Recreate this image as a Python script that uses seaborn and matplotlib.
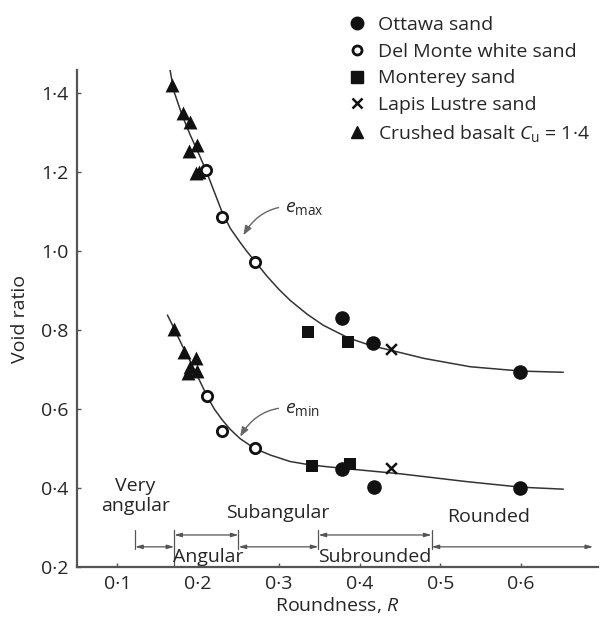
import matplotlib
matplotlib.use("Agg")
import matplotlib.pyplot as plt
from matplotlib.lines import Line2D
import seaborn as sns
import pandas as pd

# ---------------- data ----------------
ottawa_R = [0.378, 0.417, 0.599, 0.378, 0.418, 0.598]
ottawa_e = [0.830, 0.767, 0.694, 0.448, 0.403, 0.400]

delmonte_R = [0.210, 0.230, 0.270, 0.211, 0.230, 0.270]
delmonte_e = [1.205, 1.087, 0.972, 0.633, 0.545, 0.502]

monterey_R = [0.336, 0.386, 0.341, 0.388]
monterey_e = [0.795, 0.770, 0.456, 0.461]

lapis_R = [0.439, 0.439]
lapis_e = [0.752, 0.450]

basalt_R = [0.168, 0.181, 0.190, 0.199, 0.189, 0.197, 0.201,
            0.1705, 0.182, 0.198, 0.190, 0.199, 0.188]
basalt_e = [1.420, 1.350, 1.326, 1.268, 1.254, 1.197, 1.201,
            0.803, 0.744, 0.728, 0.706, 0.696, 0.690]

# fitted curves
emax_R = [0.163, 0.170, 0.180, 0.190, 0.200, 0.210, 0.220, 0.230, 0.240, 0.252,
          0.260, 0.270, 0.285, 0.300, 0.314, 0.335, 0.355, 0.386, 0.415, 0.440,
          0.480, 0.537, 0.600, 0.652]
emax_e = [1.484, 1.405, 1.345, 1.295, 1.250, 1.203, 1.150, 1.097, 1.057, 1.022,
          1.000, 0.975, 0.937, 0.903, 0.875, 0.840, 0.812, 0.780, 0.760, 0.748,
          0.728, 0.707, 0.696, 0.693]

emin_R = [0.162, 0.170, 0.180, 0.190, 0.200, 0.211, 0.220, 0.230, 0.240, 0.252,
          0.270, 0.290, 0.314, 0.340, 0.388, 0.450, 0.533, 0.600, 0.652]
emin_e = [0.838, 0.805, 0.762, 0.722, 0.680, 0.633, 0.600, 0.572, 0.548, 0.525,
          0.500, 0.483, 0.467, 0.458, 0.448, 0.436, 0.416, 0.402, 0.397]

# roundness classes
class_names = ["Very\nangular", "Angular", "Subangular", "Subrounded", "Rounded"]
class_bounds = [0.122, 0.1705, 0.25, 0.349, 0.489, 0.689]

x_ticks = [0.1, 0.2, 0.3, 0.4, 0.5, 0.6]
x_labels = ["0·1", "0·2", "0·3", "0·4", "0·5", "0·6"]
y_ticks = [0.2, 0.4, 0.6, 0.8, 1.0, 1.2, 1.4]
y_labels = ["0·2", "0·4", "0·6", "0·8", "1·0", "1·2", "1·4"]

# ---------------- style ----------------
sns.set_theme(style="ticks")
plt.rcParams["font.family"] = ["Open Sans", "DejaVu Sans"]
plt.rcParams["mathtext.fontset"] = "custom"
plt.rcParams["mathtext.rm"] = "Open Sans"
plt.rcParams["mathtext.it"] = "Open Sans:italic"

FS = 14
TXT = "#262626"
SP = "#555555"

fig = plt.figure(figsize=(6.01, 6.21), dpi=100)
ax = fig.add_axes([0.128, 0.087, 0.867, 0.800])

# curves
sns.lineplot(x=emax_R, y=emax_e, sort=False, color="#333333", lw=1.1, ax=ax)
sns.lineplot(x=emin_R, y=emin_e, sort=False, color="#333333", lw=1.1, ax=ax)

# points
sns.scatterplot(x=ottawa_R, y=ottawa_e, marker="o", s=110, color="#111111",
                edgecolor="#111111", linewidth=0, ax=ax, zorder=5)
sns.scatterplot(x=delmonte_R, y=delmonte_e, marker="o", s=55, facecolor="white",
                edgecolor="#111111", linewidth=2.0, ax=ax, zorder=5)
sns.scatterplot(x=monterey_R, y=monterey_e, marker="s", s=85, color="#111111",
                linewidth=0, ax=ax, zorder=5)
sns.scatterplot(x=lapis_R, y=lapis_e, marker="x", s=60, color="#111111",
                linewidth=1.8, ax=ax, zorder=5)
sns.scatterplot(x=basalt_R, y=basalt_e, marker="^", s=100, color="#111111",
                linewidth=0, ax=ax, zorder=5)

ax.set_xlim(0.05, 0.695)
ax.set_ylim(0.2, 1.458)
ax.set_xticks(x_ticks, x_labels)
ax.set_yticks(y_ticks, y_labels)
ax.tick_params(direction="in", length=3, width=1, color=SP, labelsize=FS,
               labelcolor=TXT, pad=6)
for s in ["top", "right"]:
    ax.spines[s].set_visible(False)
for s in ["left", "bottom"]:
    ax.spines[s].set_color(SP)
    ax.spines[s].set_linewidth(1.6)

ax.set_xlabel("Roundness, $\\mathit{R}$", fontsize=FS, color=TXT, labelpad=1)
ax.set_ylabel("Void ratio", fontsize=FS, color=TXT, labelpad=9)

# e_max / e_min annotations
arrow_kw = dict(arrowstyle="-|>,head_length=0.4,head_width=0.15", color="#666666",
                lw=1.0, connectionstyle="arc3,rad=0.35", shrinkA=2, shrinkB=0)
ax.annotate("$e_{\\mathrm{max}}$", xy=(0.256, 1.040), xytext=(0.307, 1.110),
            fontsize=FS, color=TXT, va="center", ha="left", arrowprops=arrow_kw)
ax.annotate("$e_{\\mathrm{min}}$", xy=(0.252, 0.530), xytext=(0.307, 0.600),
            fontsize=FS, color=TXT, va="center", ha="left", arrowprops=arrow_kw)

# roundness classes
bk = dict(color="#555555", lw=0.9)
hk = dict(arrowstyle="<|-|>,head_length=0.35,head_width=0.1", color="#555555",
          lw=0.9, shrinkA=0, shrinkB=0)
y_lo, y_hi = 0.251, 0.281
levels = [y_lo, y_hi, y_lo, y_hi, y_lo]
for i, name in enumerate(class_names):
    a, b = class_bounds[i], class_bounds[i + 1]
    yy = levels[i]
    ax.annotate("", xy=(b, yy), xytext=(a, yy), arrowprops=hk)
    if i == 0:
        ax.plot([a, a], [0.246, 0.294], **bk)
    if i < len(class_names) - 1:
        ax.plot([b, b], [0.2, 0.294] if i == 0 else [0.246, 0.294], **bk)
# labels
ax.text(0.1225, 0.380, "Very\nangular", ha="center", va="center", fontsize=FS,
        color=TXT, linespacing=1.1)
ax.text(0.212, 0.225, "Angular", ha="center", va="center", fontsize=FS, color=TXT)
ax.text(0.299, 0.337, "Subangular", ha="center", va="center", fontsize=FS, color=TXT)
ax.text(0.419, 0.225, "Subrounded", ha="center", va="center", fontsize=FS, color=TXT)
ax.text(0.560, 0.327, "Rounded", ha="center", va="center", fontsize=FS, color=TXT)

# legend
handles = [
    Line2D([], [], ls="", marker="o", ms=9, color="#111111"),
    Line2D([], [], ls="", marker="o", ms=6.5, mfc="white", mec="#111111", mew=2),
    Line2D([], [], ls="", marker="s", ms=8, color="#111111"),
    Line2D([], [], ls="", marker="x", ms=7, mew=1.8, color="#111111"),
    Line2D([], [], ls="", marker="^", ms=9, color="#111111"),
]
labels = ["Ottawa sand", "Del Monte white sand", "Monterey sand", "Lapis Lustre sand",
          "Crushed basalt $\\mathit{C}_{\\mathrm{u}}$ = 1·4"]
leg = ax.legend(handles, labels, loc="upper left", bbox_to_anchor=(0.5, 1.125),
                frameon=False, fontsize=FS, handletextpad=0.5, labelspacing=0.45,
                handlelength=1.2, borderaxespad=0)
for t in leg.get_texts():
    t.set_color(TXT)

fig.savefig("out.png", dpi=100)
